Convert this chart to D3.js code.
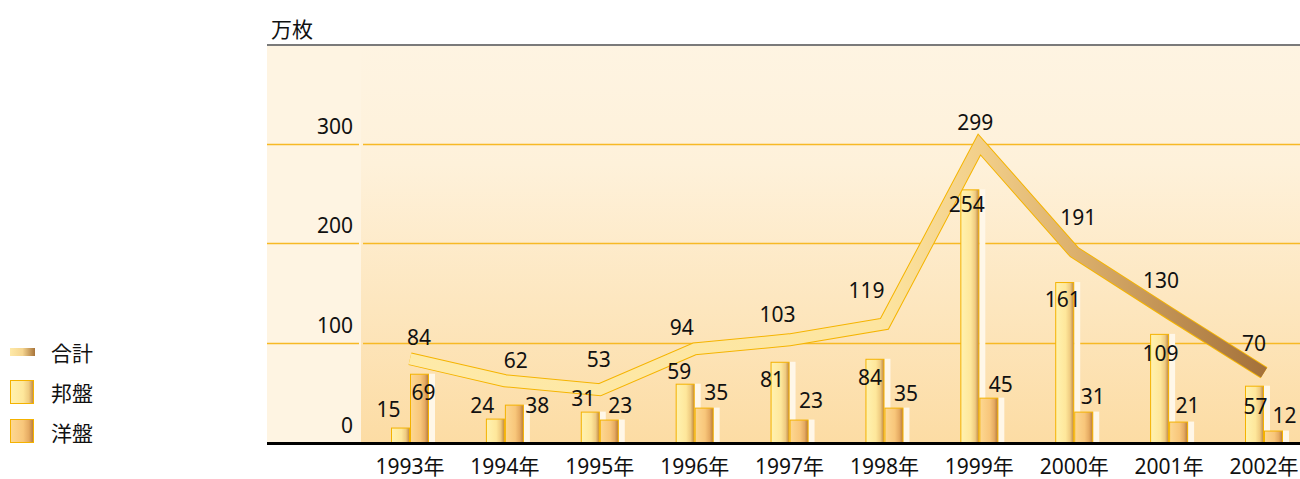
<!DOCTYPE html>
<html>
<head>
<meta charset="utf-8">
<script src="https://cdn.jsdelivr.net/npm/d3@7"></script>
<style>
  body { margin: 0; background: #fff; }
  svg text { font-family: "Noto Sans", "Noto Sans CJK JP", sans-serif; fill: #111; }
</style>
</head>
<body>
<div id="chart"></div>
<script>
// data (万枚)
var years = ["1993年", "1994年", "1995年", "1996年", "1997年", "1998年", "1999年", "2000年", "2001年", "2002年"];
var domestic = [15, 24, 31, 59, 81, 84, 254, 161, 109, 57];   // 邦盤
var foreign = [69, 38, 23, 35, 23, 35, 45, 31, 21, 12];       // 洋盤
var total = [84, 62, 53, 94, 103, 119, 299, 191, 130, 70];    // 合計
var yTicks = [0, 100, 200, 300];
var legendNames = ["合計", "邦盤", "洋盤"];
var unitLabel = "万枚";

// label nudges [dx, dy] (hand placed like the original)
var totalNudge = [[9, -14], [11, -13], [-1, -23], [-13, -14], [-12, -18], [-18, -26], [-4, -14], [4, -27], [-8, -25], [-10, -22]];
var domNudge = [[-12, -11], [-13, -6], [-7, -6], [-6, -5], [-8, 25], [-5, 26], [-3, 23], [-2, 25], [1, 27], [1, 28]];
var forNudge = [[4, 26], [23, 8], [11, -7], [12, -8], [12, -12], [12, -7], [12, -6], [9, -8], [9, -9], [11, -8]];

var width = 1300, height = 479;
var plotLeft = 267, plotRight = 1300, plotTop = 45, split = 361;

var svg = d3.select("#chart").append("svg")
    .attr("width", width)
    .attr("height", height);

var defs = svg.append("defs");

function hGrad(id, stops) {
    var g = defs.append("linearGradient").attr("id", id)
        .attr("x1", 0).attr("x2", 1).attr("y1", 0).attr("y2", 0);
    stops.forEach(function(s) {
        g.append("stop").attr("offset", s[0]).attr("stop-color", s[1]);
    });
    return g;
}

hGrad("domGrad", [[0, "#fff2b0"], [0.55, "#fee79b"], [0.8, "#efcb80"], [1, "#bd8746"]]);
hGrad("forGrad", [[0, "#fdd892"], [0.55, "#f8c67a"], [0.8, "#e5aa62"], [1, "#b67a3c"]]);
hGrad("legLine", [[0, "#fee9a8"], [0.5, "#f5d590"], [1, "#a8743a"]]);

var bgGrad = defs.append("linearGradient").attr("id", "bgGrad")
    .attr("x1", 0).attr("x2", 0).attr("y1", 0).attr("y2", 1);
bgGrad.append("stop").attr("offset", 0).attr("stop-color", "#fef4e2");
bgGrad.append("stop").attr("offset", 0.3).attr("stop-color", "#fef1da");
bgGrad.append("stop").attr("offset", 1).attr("stop-color", "#fcdca4");

// scales
var x = d3.scalePoint().domain(years).range([410, 1264]);
var y = d3.scaleLinear().domain([0, 300]).range([442.5, 143.5]);
var sub = d3.scaleBand().domain(["dom", "for"]).range([-19, 19]).padding(0);

var lineGrad = defs.append("linearGradient").attr("id", "lineGrad")
    .attr("gradientUnits", "userSpaceOnUse")
    .attr("x1", x(years[0])).attr("x2", x(years[9])).attr("y1", 0).attr("y2", 0);
[[0, "#feeaa8"], [0.55, "#fde5a0"], [0.667, "#f2cf8a"], [0.78, "#dcb06c"], [1, "#a4713a"]].forEach(function(s) {
    lineGrad.append("stop").attr("offset", s[0]).attr("stop-color", s[1]);
});

// background panels
svg.append("rect")
    .attr("x", plotLeft).attr("y", plotTop)
    .attr("width", split - plotLeft).attr("height", y(0) - plotTop)
    .attr("fill", "#fef4e2");
svg.append("rect")
    .attr("x", split).attr("y", plotTop)
    .attr("width", plotRight - split).attr("height", y(0) - plotTop)
    .attr("fill", "url(#bgGrad)");

// gridlines (two pieces, small gap at the panel join)
var grid = svg.append("g");
yTicks.filter(function(d) { return d > 0; }).forEach(function(t) {
    var gy = Math.round(y(t)) + 0.5;
    grid.append("line")
        .attr("x1", plotLeft).attr("x2", split - 2)
        .attr("y1", gy).attr("y2", gy)
        .attr("stroke", "#f7b925").attr("stroke-width", 1.3);
    grid.append("line")
        .attr("x1", split + 2).attr("x2", plotRight)
        .attr("y1", gy).attr("y2", gy)
        .attr("stroke", "#f7b925").attr("stroke-width", 1.3);
});

// y tick labels
svg.append("g").selectAll("text")
    .data(yTicks)
    .enter()
    .append("text")
    .attr("x", 353)
    .attr("y", function(d) { return y(d) - 10; })
    .attr("text-anchor", "end")
    .style("font-size", "21px")
    .text(function(d) { return d; });

// top rule and unit
svg.append("line")
    .attr("x1", plotLeft).attr("x2", plotRight)
    .attr("y1", 45).attr("y2", 45)
    .attr("stroke", "#7a7a7a").attr("stroke-width", 2);
svg.append("text")
    .attr("x", 271).attr("y", 37)
    .style("font-size", "21px")
    .text(unitLabel);

// bars
var groups = svg.append("g").selectAll("g")
    .data(years)
    .enter()
    .append("g")
    .attr("transform", function(d) { return "translate(" + x(d) + ",0)"; });

function drawBar(key, values, fill) {
    groups.append("rect")  // pale shadow strip on the right of each bar
        .attr("x", function(d, i) { return sub(key) + sub.bandwidth(); })
        .attr("y", function(d, i) { return y(values[i]); })
        .attr("width", 6)
        .attr("height", function(d, i) { return y(0) - y(values[i]); })
        .attr("fill", "#fff7e8");
    groups.append("rect")
        .attr("x", sub(key) + 0.5)
        .attr("y", function(d, i) { return y(values[i]) + 0.5; })
        .attr("width", sub.bandwidth() - 1)
        .attr("height", function(d, i) { return y(0) - y(values[i]) - 0.5; })
        .attr("fill", fill)
        .attr("stroke", "#f4b200")
        .attr("stroke-width", 1);
}
drawBar("dom", domestic, "url(#domGrad)");
drawBar("for", foreign, "url(#forGrad)");

// total line, drawn as an outlined band
var line = d3.line()
    .x(function(d, i) { return x(years[i]); })
    .y(function(d) { return y(d); });

svg.append("path")
    .attr("d", line(total))
    .attr("fill", "none")
    .attr("stroke", "#f5b400")
    .attr("stroke-width", 13)
    .attr("stroke-linejoin", "miter")
    .attr("stroke-miterlimit", 10);
svg.append("path")
    .attr("d", line(total))
    .attr("fill", "none")
    .attr("stroke", "url(#lineGrad)")
    .attr("stroke-width", 11)
    .attr("stroke-linejoin", "miter")
    .attr("stroke-miterlimit", 10);

// baseline
svg.append("line")
    .attr("x1", plotLeft).attr("x2", plotRight)
    .attr("y1", 443.5).attr("y2", 443.5)
    .attr("stroke", "#000").attr("stroke-width", 3);

// value labels
var labels = svg.append("g").style("font-size", "21px").attr("text-anchor", "middle");
years.forEach(function(yr, i) {
    var cx = x(yr);
    labels.append("text")
        .attr("x", cx + sub("dom") + sub.bandwidth() / 2 + domNudge[i][0])
        .attr("y", y(domestic[i]) + domNudge[i][1])
        .text(domestic[i]);
    labels.append("text")
        .attr("x", cx + sub("for") + sub.bandwidth() / 2 + forNudge[i][0])
        .attr("y", y(foreign[i]) + forNudge[i][1])
        .text(foreign[i]);
    labels.append("text")
        .attr("x", cx + totalNudge[i][0])
        .attr("y", y(total[i]) + totalNudge[i][1])
        .text(total[i]);
});

// x axis labels
svg.append("g").selectAll("text")
    .data(years)
    .enter()
    .append("text")
    .attr("x", function(d) { return x(d); })
    .attr("y", 474)
    .attr("text-anchor", "middle")
    .style("font-size", "21px")
    .text(function(d) { return d; });

// legend
var legend = svg.append("g");
legend.append("rect")
    .attr("x", 10).attr("y", 348).attr("width", 25).attr("height", 8)
    .attr("fill", "url(#legLine)");
legend.append("rect")
    .attr("x", 10.5).attr("y", 380.5).attr("width", 23).attr("height", 23)
    .attr("fill", "url(#domGrad)").attr("stroke", "#f4b200");
legend.append("rect")
    .attr("x", 10.5).attr("y", 419.5).attr("width", 23).attr("height", 23)
    .attr("fill", "url(#forGrad)").attr("stroke", "#f4b200");
legend.selectAll("text")
    .data(legendNames)
    .enter()
    .append("text")
    .attr("x", 51)
    .attr("y", function(d, i) { return 361 + i * 40; })
    .style("font-size", "21px")
    .text(function(d) { return d; });
</script>
</body>
</html>
